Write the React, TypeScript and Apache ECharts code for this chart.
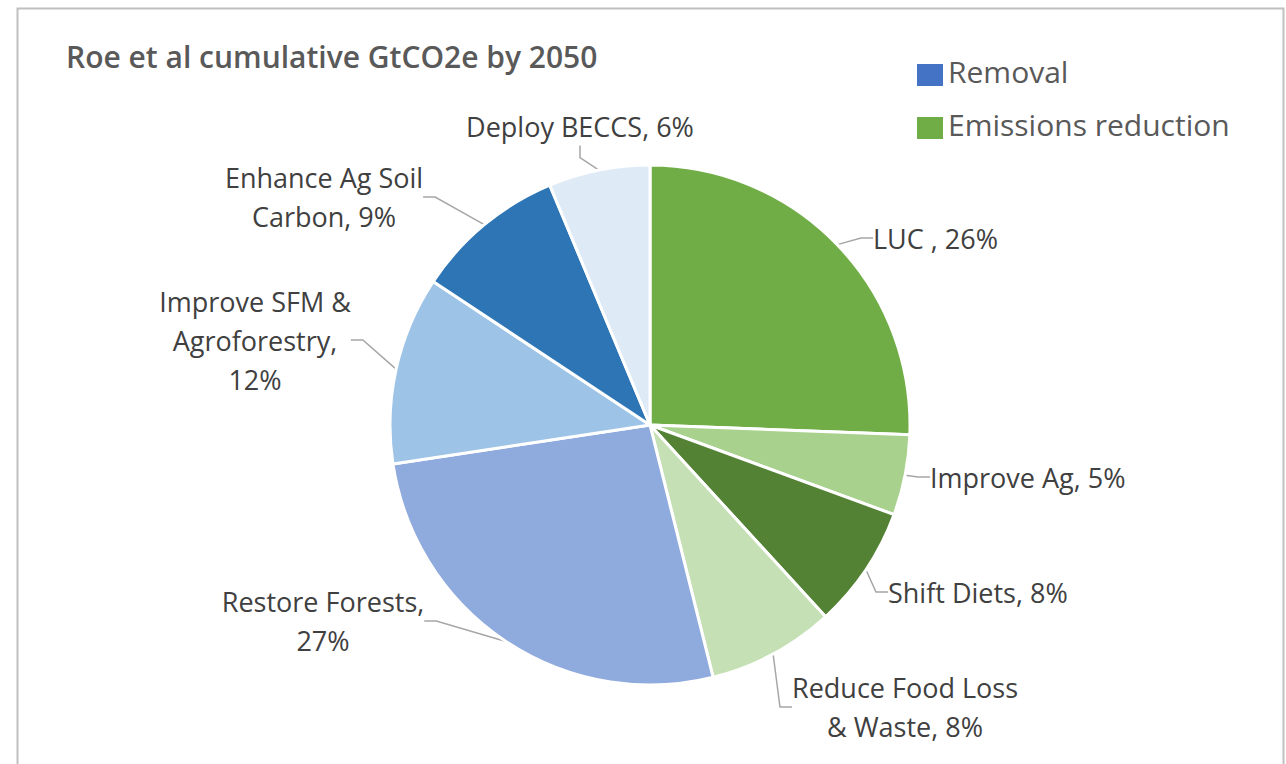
import React, { useEffect, useRef } from "react";
import * as echarts from "echarts";

const categories = [
  "LUC",
  "Improve Ag",
  "Shift Diets",
  "Reduce Food Loss & Waste",
  "Restore Forests",
  "Improve SFM & Agroforestry",
  "Enhance Ag Soil Carbon",
  "Deploy BECCS",
];
const shares = [25.6, 5.0, 7.6, 7.9, 26.5, 11.7, 9.4, 6.3];
const labelPrefixes = [
  "LUC , ",
  "Improve Ag, ",
  "Shift Diets, ",
  "Reduce Food Loss\n& Waste, ",
  "Restore Forests,\n",
  "Improve SFM &\nAgroforestry,\n",
  "Enhance Ag Soil\nCarbon, ",
  "Deploy BECCS, ",
];
const sliceColors = ["#70ad47", "#a9d18e", "#548235", "#c5e0b4", "#8faadc", "#9dc3e6", "#2e75b6", "#deebf7"];
const legendNames = ["Removal", "Emissions reduction"];
const legendColors = ["#4472c4", "#70ad47"];
const titleText = "Roe et al cumulative GtCO2e by 2050";

// label anchor layout (pixels)
const labelPlacement = [
  { x: 873, y: 238, align: "left" },
  { x: 930, y: 477, align: "left" },
  { x: 888, y: 592, align: "left" },
  { x: 905, y: 707, align: "center" },
  { x: 323, y: 621, align: "center" },
  { x: 255, y: 340, align: "center" },
  { x: 324, y: 197, align: "center" },
  { x: 580, y: 126, align: "center" },
];

const FONT = "'Open Sans', 'Noto Sans', sans-serif";

export default function App() {
  const ref = useRef<HTMLDivElement>(null);
  useEffect(() => {
    if (!ref.current) return;
    const chart = echarts.init(ref.current, null, { renderer: "svg" });
    const option: any = {
      animation: false,
      backgroundColor: "#ffffff",
      title: {
        text: titleText,
        left: 61,
        top: 36,
        textStyle: { fontFamily: FONT, fontSize: 30, fontWeight: 600, color: "#595959" },
      },
      graphic: [
        {
          type: "rect",
          left: 15,
          top: 6,
          shape: { width: 1266, height: 800 },
          style: { fill: "none", stroke: "#bfbfbf", lineWidth: 2 },
          z: -1,
          silent: true,
        },
        ...legendNames.flatMap((n, i) => [
          {
            type: "rect",
            left: 917,
            top: 64 + i * 53,
            shape: { width: 26, height: 22 },
            style: { fill: legendColors[i] },
          },
          {
            type: "text",
            left: 948,
            top: 56 + i * 53,
            style: { text: n, font: `30px ${FONT}`, fill: "#595959" },
          },
        ]),
      ],
      series: [
        {
          type: "pie",
          center: [650, 425],
          radius: 260,
          startAngle: 90,
          clockwise: true,
          data: categories.map((c, i) => ({
            name: c,
            value: shares[i],
            itemStyle: { color: sliceColors[i] },
          })),
          itemStyle: { borderColor: "#ffffff", borderWidth: 3 },
          label: {
            show: true,
            position: "outside",
            fontFamily: FONT,
            fontSize: 27,
            lineHeight: 39,
            color: "#404040",
            formatter: (p: any) => labelPrefixes[p.dataIndex] + Math.round(p.value) + "%",
          },
          labelLine: {
            show: true,
            length: 12,
            length2: 12,
            lineStyle: { color: "#a6a6a6", width: 1.5 },
          },
          labelLayout: (p: any) => {
            const lp = labelPlacement[p.dataIndex];
            return { x: lp.x, y: lp.y, align: lp.align, verticalAlign: "middle" };
          },
        },
      ],
    };
    chart.setOption(option);
    return () => chart.dispose();
  }, []);
  return (
    <div
      ref={ref}
      style={{ position: "fixed", left: 0, top: 0, width: 1286, height: 764 }}
    />
  );
}
